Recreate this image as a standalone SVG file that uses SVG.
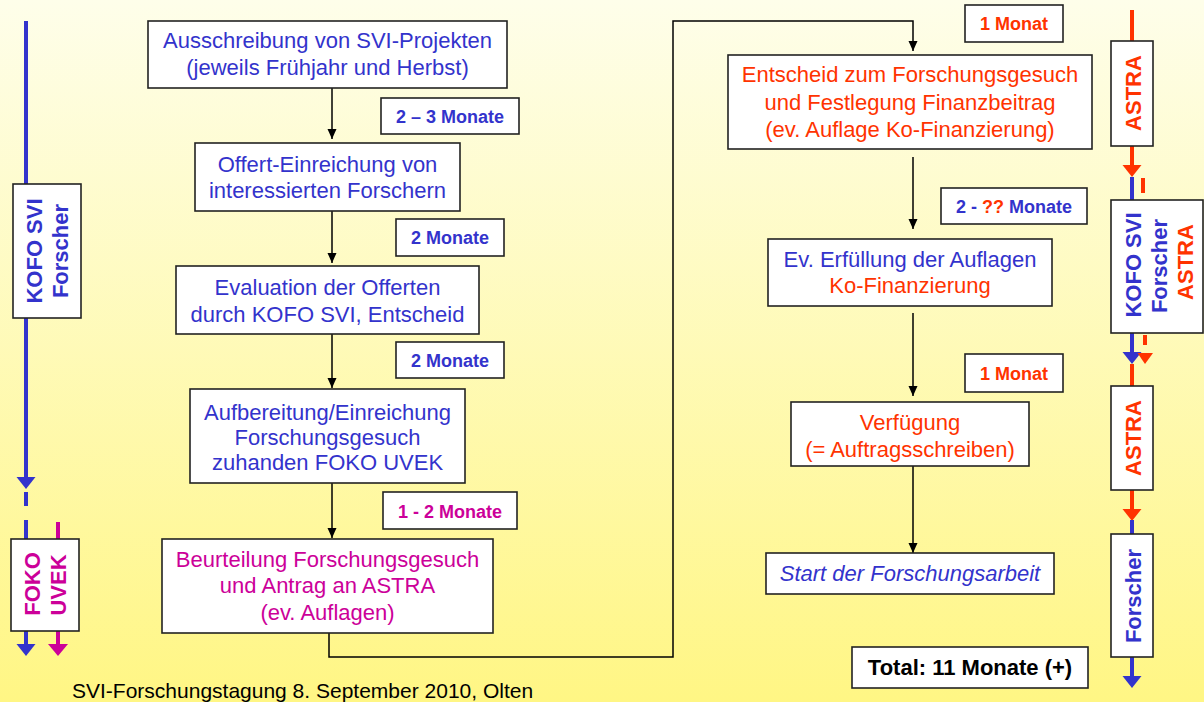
<svg xmlns="http://www.w3.org/2000/svg" width="1204" height="702" viewBox="0 0 1204 702">
<defs>
<linearGradient id="bg" x1="0" y1="0" x2="0" y2="1">
<stop offset="0" stop-color="#fefeea"/>
<stop offset="1" stop-color="#fff684"/>
</linearGradient>
<marker id="ah" viewBox="0 0 10 10" refX="10" refY="5" markerWidth="10" markerHeight="10" markerUnits="userSpaceOnUse" orient="auto">
<path d="M0,0.5 L10,5 L0,9.5 z" fill="#000"/>
</marker>
<style>
.box{fill:#fff;stroke:#222;stroke-width:1.6}
.t{font-family:"Liberation Sans",Arial,sans-serif;font-size:22px;text-anchor:middle}
.lb{font-family:"Liberation Sans",Arial,sans-serif;font-size:18px;font-weight:bold;text-anchor:middle}
.side{font-family:"Liberation Sans",Arial,sans-serif;font-size:22px;font-weight:bold;text-anchor:middle}
.blue{fill:#3333cc}
.red{fill:#ff3300}
.mag{fill:#cc0099}
.conn{fill:none;stroke:#000;stroke-width:1.5}
.bl{stroke:#3333cc;stroke-width:4;fill:none}
.rl{stroke:#ff3300;stroke-width:4;fill:none}
.ml{stroke:#cc0099;stroke-width:4;fill:none}
</style>
</defs>
<rect x="0" y="0" width="1204" height="702" fill="url(#bg)"/>

<g id="connectors">
<line class="conn" x1="332" y1="88" x2="332" y2="139" marker-end="url(#ah)"/>
<line class="conn" x1="332" y1="211" x2="332" y2="263" marker-end="url(#ah)"/>
<line class="conn" x1="332" y1="334" x2="332" y2="388" marker-end="url(#ah)"/>
<line class="conn" x1="332" y1="483" x2="332" y2="538" marker-end="url(#ah)"/>
<polyline class="conn" points="329,633 329,657 673,657 673,21 913,21 913,51" marker-end="url(#ah)"/>
<line class="conn" x1="913" y1="157" x2="913" y2="229" marker-end="url(#ah)"/>
<line class="conn" x1="913" y1="313" x2="913" y2="396" marker-end="url(#ah)"/>
<line class="conn" x1="913" y1="466" x2="913" y2="553" marker-end="url(#ah)"/>
</g>

<g id="left-bar">
<line class="bl" x1="26" y1="21" x2="26" y2="184"/>
<line class="bl" x1="26" y1="318" x2="26" y2="478"/>
<polygon points="16.5,477 35.5,477 26,489" fill="#3333cc"/>
<line class="bl" x1="26" y1="492" x2="26" y2="506"/>
<line class="bl" x1="26" y1="520" x2="26" y2="539"/>
<line class="ml" x1="58" y1="522" x2="58" y2="539"/>
<line class="bl" x1="26" y1="631" x2="26" y2="645"/>
<polygon points="16.5,644 35.5,644 26,656" fill="#3333cc"/>
<line class="ml" x1="58" y1="631" x2="58" y2="645"/>
<polygon points="48,644 68,644 58,656" fill="#cc0099"/>
</g>

<g id="node-kofo-left">
<rect class="box" x="13" y="184" width="68" height="134"/>
<text class="side blue" transform="translate(42,251) rotate(-90)">KOFO SVI</text>
<text class="side blue" transform="translate(68,251) rotate(-90)">Forscher</text>
</g>

<g id="node-foko-left">
<rect class="box" x="11" y="539" width="68" height="92"/>
<text class="side mag" transform="translate(40,584) rotate(-90)">FOKO</text>
<text class="side mag" transform="translate(66,585) rotate(-90)">UVEK</text>
</g>

<g id="right-bar">
<line class="rl" x1="1132" y1="10" x2="1132" y2="41"/>
<line class="rl" x1="1132" y1="146" x2="1132" y2="166"/>
<polygon points="1122.5,165 1141.5,165 1132,177" fill="#ff3300"/>
<line class="bl" x1="1132" y1="177" x2="1132" y2="200"/>
<line class="rl" x1="1143" y1="178" x2="1143" y2="193"/>
<line class="bl" x1="1132" y1="333" x2="1132" y2="353"/>
<polygon points="1122.5,352 1141.5,352 1132,364" fill="#3333cc"/>
<line class="rl" x1="1145" y1="335" x2="1145" y2="345"/>
<polygon points="1137.5,353 1153,353 1145,364" fill="#ff3300"/>
<line class="rl" x1="1132" y1="364" x2="1132" y2="386"/>
<line class="rl" x1="1132" y1="490" x2="1132" y2="510"/>
<polygon points="1122.5,509 1141.5,509 1132,521" fill="#ff3300"/>
<line class="bl" x1="1132" y1="520" x2="1132" y2="534"/>
<line class="bl" x1="1132" y1="657" x2="1132" y2="677"/>
<polygon points="1122.5,676 1141.5,676 1132,688" fill="#3333cc"/>
</g>

<g id="node-astra-1">
<rect class="box" x="1111" y="41" width="42" height="105"/>
<text class="side red" transform="translate(1141,93) rotate(-90)">ASTRA</text>
</g>
<g id="node-kofo-right">
<rect class="box" x="1111" y="200" width="92" height="133"/>
<text class="side blue" transform="translate(1141,265) rotate(-90)">KOFO SVI</text>
<text class="side blue" transform="translate(1167,266) rotate(-90)">Forscher</text>
<text class="side red" transform="translate(1193,262) rotate(-90)">ASTRA</text>
</g>
<g id="node-astra-2">
<rect class="box" x="1111" y="386" width="42" height="104"/>
<text class="side red" transform="translate(1141,438) rotate(-90)">ASTRA</text>
</g>
<g id="node-forscher-right">
<rect class="box" x="1111" y="534" width="42" height="123"/>
<text class="side blue" transform="translate(1141,596) rotate(-90)">Forscher</text>
</g>

<g id="node-ausschreibung">
<rect class="box" x="148" y="21" width="359" height="67"/>
<text class="t blue" x="327.5" y="48">Ausschreibung von SVI-Projekten</text>
<text class="t blue" x="327.5" y="75">(jeweils Frühjahr und Herbst)</text>
</g>
<g id="label-2-3">
<rect class="box" x="381" y="98" width="138" height="36"/>
<text class="lb blue" x="450" y="123">2 – 3 Monate</text>
</g>
<g id="node-offert">
<rect class="box" x="195" y="143" width="265" height="68"/>
<text class="t blue" x="327.5" y="172">Offert-Einreichung von</text>
<text class="t blue" x="327.5" y="198">interessierten Forschern</text>
</g>
<g id="label-2a">
<rect class="box" x="396" y="219" width="108" height="37"/>
<text class="lb blue" x="450" y="244">2 Monate</text>
</g>
<g id="node-evaluation">
<rect class="box" x="176" y="266" width="303" height="68"/>
<text class="t blue" x="327.5" y="295">Evaluation der Offerten</text>
<text class="t blue" x="327.5" y="322">durch KOFO SVI, Entscheid</text>
</g>
<g id="label-2b">
<rect class="box" x="396" y="342" width="108" height="36"/>
<text class="lb blue" x="450" y="367">2 Monate</text>
</g>
<g id="node-aufbereitung">
<rect class="box" x="190" y="389" width="275" height="94"/>
<text class="t blue" x="327.5" y="420">Aufbereitung/Einreichung</text>
<text class="t blue" x="327.5" y="445">Forschungsgesuch</text>
<text class="t blue" x="327.5" y="470">zuhanden FOKO UVEK</text>
</g>
<g id="label-1-2">
<rect class="box" x="383" y="492" width="134" height="37"/>
<text class="lb mag" x="450" y="518">1 - 2 Monate</text>
</g>
<g id="node-beurteilung">
<rect class="box" x="162" y="539" width="331" height="94"/>
<text class="t mag" x="327.5" y="567">Beurteilung Forschungsgesuch</text>
<text class="t mag" x="327.5" y="593">und Antrag an ASTRA</text>
<text class="t mag" x="327.5" y="620">(ev. Auflagen)</text>
</g>

<g id="label-1a">
<rect class="box" x="965" y="5" width="98" height="37"/>
<text class="lb red" x="1014" y="30">1 Monat</text>
</g>
<g id="node-entscheid">
<rect class="box" x="728" y="55" width="364" height="94"/>
<text class="t red" x="910" y="82">Entscheid zum Forschungsgesuch</text>
<text class="t red" x="910" y="110">und Festlegung Finanzbeitrag</text>
<text class="t red" x="910" y="137">(ev. Auflage Ko-Finanzierung)</text>
</g>
<g id="label-2-qq">
<rect class="box" x="941" y="188" width="146" height="36"/>
<text class="lb blue" x="1014" y="213">2 - <tspan class="red">??</tspan> Monate</text>
</g>
<g id="node-erfuellung">
<rect class="box" x="768" y="239" width="284" height="67"/>
<text class="t blue" x="910" y="267">Ev. Erfüllung der Auflagen</text>
<text class="t red" x="910" y="293">Ko-Finanzierung</text>
</g>
<g id="label-1b">
<rect class="box" x="965" y="354" width="98" height="38"/>
<text class="lb red" x="1014" y="380">1 Monat</text>
</g>
<g id="node-verfuegung">
<rect class="box" x="791" y="402" width="238" height="64"/>
<text class="t red" x="910" y="430">Verfügung</text>
<text class="t red" x="910" y="457">(= Auftragsschreiben)</text>
</g>
<g id="node-start">
<rect class="box" x="766" y="553" width="288" height="41"/>
<text class="t blue" x="910" y="581" font-style="italic">Start der Forschungsarbeit</text>
</g>
<g id="node-total">
<rect class="box" x="852" y="647" width="236" height="41"/>
<text x="970" y="675" font-family="'Liberation Sans',Arial,sans-serif" font-size="22" font-weight="bold" text-anchor="middle" fill="#000">Total: 11 Monate (+)</text>
</g>

<text x="72" y="698" font-family="'Liberation Sans',Arial,sans-serif" font-size="21" fill="#000">SVI-Forschungstagung 8. September 2010, Olten</text>
</svg>
